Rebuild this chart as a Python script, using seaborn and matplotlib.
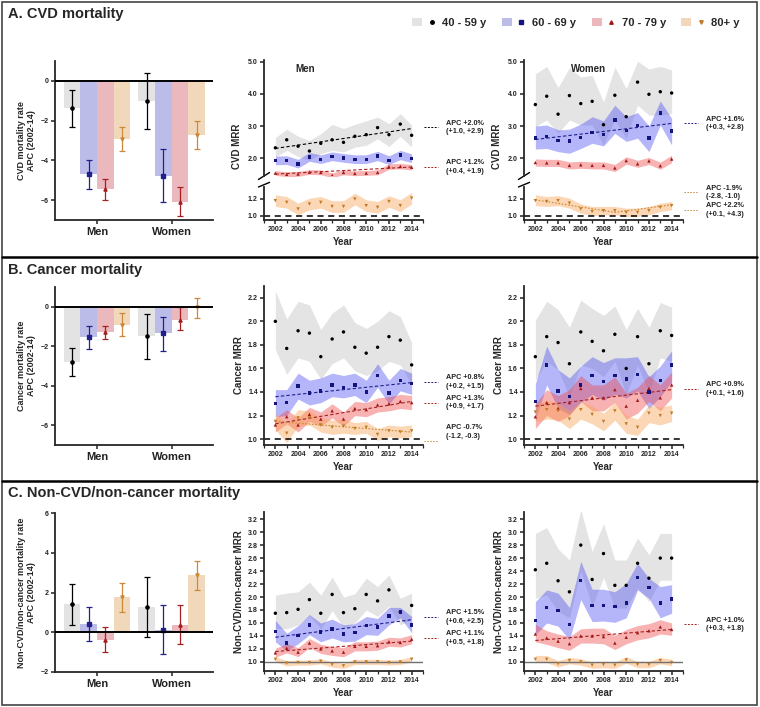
import numpy as np
import pandas as pd
import matplotlib
matplotlib.use('Agg')
import matplotlib.pyplot as plt
import matplotlib.patches as mpatches
import matplotlib.lines as mlines
from matplotlib.legend_handler import HandlerTuple
from matplotlib.ticker import FormatStrFormatter, MultipleLocator
import seaborn as sns

years = list(range(2002, 2015))
ages = ['40 - 59 y', '60 - 69 y', '70 - 79 y', '80+ y']
sexes = ['Men', 'Women']

# ---- bar panels: APC (2002-14), age order, men then women
cvd_apc = [[-1.35, -4.7, -5.45, -2.9], [-1.0, -4.8, -6.1, -2.7]]
cvd_lo = [[-2.3, -5.45, -6.0, -3.55], [-2.4, -6.1, -6.8, -3.45]]
cvd_hi = [[-0.45, -4.0, -4.95, -2.3], [0.4, -3.45, -5.35, -2.0]]

can_apc = [[-2.8, -1.55, -1.3, -0.9], [-1.5, -1.35, -0.65, 0.0]]
can_lo = [[-3.5, -2.15, -1.65, -1.5], [-2.65, -2.25, -1.2, -0.55]]
can_hi = [[-2.1, -0.95, -0.95, -0.3], [-0.35, -0.5, 0.0, 0.45]]

oth_apc = [[1.4, 0.42, -0.4, 1.75], [1.25, 0.11, 0.36, 2.86]]
oth_lo = [[0.37, -0.42, -1.0, 1.03], [-0.24, -1.09, -0.6, 2.12]]
oth_hi = [[2.42, 1.29, 0.25, 2.47], [2.77, 1.36, 1.36, 3.58]]

# ---- MRR panels: one list per age group
cvd_men_mid = [[2.32, 2.57, 2.37, 2.22, 2.46, 2.57, 2.49, 2.68, 2.73, 2.95, 2.73, 3.06, 2.71],
               [1.92, 1.93, 1.82, 2.03, 1.96, 2.05, 2.00, 1.96, 1.96, 2.06, 1.93, 2.09, 1.99],
               [1.53, 1.49, 1.50, 1.56, 1.55, 1.46, 1.55, 1.52, 1.53, 1.55, 1.73, 1.74, 1.71],
               [1.18, 1.16, 1.08, 1.14, 1.16, 1.11, 1.11, 1.20, 1.12, 1.10, 1.17, 1.12, 1.21]]
cvd_men_hi = [[2.64, 2.90, 2.68, 2.55, 2.76, 3.05, 2.92, 3.05, 3.16, 3.28, 3.07, 3.39, 3.02],
              [2.06, 2.07, 1.96, 2.17, 2.10, 2.19, 2.14, 2.10, 2.10, 2.21, 2.07, 2.24, 2.13],
              [1.61, 1.57, 1.58, 1.64, 1.63, 1.54, 1.63, 1.60, 1.61, 1.63, 1.82, 1.83, 1.80],
              [1.25, 1.23, 1.15, 1.21, 1.23, 1.18, 1.18, 1.27, 1.19, 1.17, 1.24, 1.19, 1.28]]
cvd_men_lo = [[2.03, 2.24, 2.05, 1.93, 2.14, 2.24, 2.19, 2.34, 2.40, 2.60, 2.36, 2.68, 2.34],
              [1.79, 1.80, 1.69, 1.90, 1.83, 1.92, 1.87, 1.83, 1.83, 1.92, 1.80, 1.95, 1.86],
              [1.46, 1.42, 1.43, 1.49, 1.48, 1.39, 1.48, 1.45, 1.46, 1.48, 1.65, 1.66, 1.63],
              [1.11, 1.09, 1.01, 1.07, 1.09, 1.04, 1.04, 1.13, 1.05, 1.03, 1.10, 1.05, 1.14]]

cvd_wom_mid = [[3.67, 3.93, 3.37, 3.95, 3.70, 3.77, 3.04, 3.96, 3.29, 4.37, 3.99, 4.07, 4.03],
               [2.62, 2.67, 2.55, 2.53, 2.65, 2.80, 2.73, 3.19, 2.86, 3.02, 2.63, 3.41, 2.85],
               [1.86, 1.85, 1.85, 1.77, 1.79, 1.77, 1.77, 1.69, 1.92, 1.82, 1.91, 1.76, 1.97],
               [1.18, 1.17, 1.18, 1.15, 1.08, 1.05, 1.06, 1.06, 1.04, 1.04, 1.06, 1.10, 1.12]]
cvd_wom_hi = [[4.63, 4.86, 4.20, 4.82, 4.53, 4.58, 3.75, 4.84, 4.17, 5.02, 4.78, 4.86, 4.75],
              [3.00, 3.03, 2.88, 2.90, 3.06, 3.29, 3.16, 3.65, 3.29, 3.42, 3.00, 3.78, 3.24],
              [1.97, 1.96, 1.96, 1.88, 1.90, 1.88, 1.88, 1.80, 2.04, 1.93, 2.02, 1.87, 2.09],
              [1.25, 1.23, 1.24, 1.21, 1.14, 1.11, 1.11, 1.11, 1.09, 1.09, 1.11, 1.15, 1.17]]
cvd_wom_lo = [[2.98, 3.19, 2.77, 3.19, 3.03, 3.03, 2.41, 3.19, 2.62, 3.65, 3.34, 3.34, 3.39],
              [2.28, 2.30, 2.20, 2.15, 2.30, 2.46, 2.38, 2.77, 2.52, 2.62, 2.20, 3.03, 2.41],
              [1.75, 1.74, 1.74, 1.66, 1.68, 1.66, 1.66, 1.58, 1.81, 1.71, 1.80, 1.65, 1.86],
              [1.12, 1.11, 1.12, 1.09, 1.03, 1.00, 1.01, 1.01, 0.99, 0.99, 1.01, 1.05, 1.07]]

can_men_mid = [[2.00, 1.77, 1.92, 1.90, 1.70, 1.85, 1.91, 1.78, 1.73, 1.78, 1.87, 1.84, 1.63],
               [1.30, 1.31, 1.45, 1.39, 1.41, 1.46, 1.44, 1.46, 1.40, 1.54, 1.39, 1.50, 1.47],
               [1.12, 1.19, 1.12, 1.21, 1.17, 1.24, 1.17, 1.26, 1.25, 1.29, 1.30, 1.32, 1.31],
               [1.15, 1.05, 1.18, 1.18, 1.12, 1.10, 1.11, 1.09, 1.10, 1.04, 1.07, 1.06, 1.07]]
can_men_hi = [[2.26, 2.02, 2.17, 2.14, 1.93, 2.07, 2.14, 1.99, 1.94, 2.00, 2.09, 2.04, 1.82],
              [1.42, 1.42, 1.56, 1.50, 1.52, 1.56, 1.54, 1.56, 1.50, 1.64, 1.50, 1.60, 1.56],
              [1.18, 1.25, 1.18, 1.27, 1.23, 1.30, 1.23, 1.32, 1.31, 1.35, 1.36, 1.38, 1.37],
              [1.22, 1.13, 1.25, 1.24, 1.18, 1.16, 1.17, 1.14, 1.15, 1.09, 1.12, 1.11, 1.12]]
can_men_lo = [[1.76, 1.55, 1.69, 1.66, 1.51, 1.64, 1.69, 1.58, 1.54, 1.58, 1.66, 1.63, 1.46],
              [1.19, 1.20, 1.34, 1.29, 1.31, 1.36, 1.35, 1.37, 1.31, 1.44, 1.30, 1.41, 1.38],
              [1.06, 1.13, 1.06, 1.15, 1.11, 1.18, 1.11, 1.20, 1.19, 1.23, 1.24, 1.26, 1.25],
              [1.08, 0.97, 1.11, 1.12, 1.06, 1.04, 1.05, 1.04, 1.05, 0.99, 1.02, 1.01, 1.02]]

can_wom_mid = [[1.70, 1.87, 1.82, 1.64, 1.91, 1.83, 1.75, 1.89, 1.60, 1.87, 1.64, 1.92, 1.88],
               [1.32, 1.63, 1.41, 1.36, 1.46, 1.54, 1.49, 1.54, 1.51, 1.55, 1.40, 1.50, 1.63],
               [1.19, 1.31, 1.26, 1.31, 1.43, 1.35, 1.35, 1.42, 1.28, 1.33, 1.43, 1.35, 1.46],
               [1.23, 1.25, 1.24, 1.17, 1.25, 1.21, 1.15, 1.24, 1.13, 1.10, 1.22, 1.20, 1.22]]
can_wom_hi = [[2.01, 2.17, 2.10, 1.95, 2.18, 2.11, 2.05, 2.13, 1.93, 2.11, 1.95, 2.16, 2.12],
              [1.47, 1.79, 1.59, 1.52, 1.62, 1.70, 1.65, 1.69, 1.69, 1.70, 1.53, 1.62, 1.75],
              [1.30, 1.42, 1.37, 1.42, 1.54, 1.46, 1.46, 1.53, 1.39, 1.44, 1.54, 1.46, 1.57],
              [1.30, 1.33, 1.31, 1.24, 1.32, 1.28, 1.22, 1.31, 1.20, 1.17, 1.29, 1.27, 1.29]]
can_wom_lo = [[1.50, 1.66, 1.59, 1.36, 1.63, 1.60, 1.53, 1.66, 1.38, 1.63, 1.39, 1.69, 1.66],
              [1.16, 1.46, 1.26, 1.21, 1.31, 1.38, 1.33, 1.38, 1.35, 1.41, 1.26, 1.36, 1.49],
              [1.09, 1.20, 1.15, 1.20, 1.32, 1.24, 1.24, 1.31, 1.17, 1.22, 1.32, 1.24, 1.35],
              [1.15, 1.17, 1.16, 1.09, 1.17, 1.13, 1.07, 1.16, 1.05, 1.03, 1.14, 1.12, 1.15]]

oth_men_mid = [[1.75, 1.76, 1.81, 1.96, 1.75, 2.04, 1.76, 1.82, 2.04, 1.94, 2.11, 1.77, 1.87],
               [1.47, 1.29, 1.41, 1.57, 1.46, 1.51, 1.43, 1.45, 1.56, 1.54, 1.71, 1.77, 1.57],
               [1.14, 1.21, 1.15, 1.29, 1.20, 1.17, 1.15, 1.24, 1.24, 1.25, 1.31, 1.30, 1.35],
               [1.04, 0.98, 0.99, 0.99, 1.01, 0.96, 0.94, 1.00, 1.00, 1.00, 0.99, 1.00, 1.04]]
oth_men_hi = [[2.03, 2.06, 2.08, 2.23, 2.03, 2.31, 2.00, 2.05, 2.29, 2.16, 2.34, 1.98, 2.06],
              [1.64, 1.44, 1.56, 1.73, 1.60, 1.66, 1.57, 1.59, 1.70, 1.67, 1.84, 1.84, 1.70],
              [1.21, 1.28, 1.22, 1.36, 1.27, 1.24, 1.22, 1.31, 1.31, 1.32, 1.38, 1.37, 1.42],
              [1.08, 1.02, 1.03, 1.03, 1.05, 1.00, 0.98, 1.04, 1.04, 1.04, 1.03, 1.04, 1.08]]
oth_men_lo = [[1.52, 1.51, 1.57, 1.71, 1.51, 1.79, 1.53, 1.60, 1.80, 1.70, 1.86, 1.57, 1.66],
              [1.31, 1.17, 1.28, 1.42, 1.31, 1.37, 1.31, 1.32, 1.42, 1.41, 1.57, 1.68, 1.45],
              [1.07, 1.14, 1.08, 1.22, 1.13, 1.10, 1.08, 1.17, 1.17, 1.18, 1.24, 1.23, 1.28],
              [1.00, 0.94, 0.95, 0.95, 0.97, 0.92, 0.90, 0.96, 0.96, 0.96, 0.95, 0.96, 1.00]]

oth_wom_mid = [[2.42, 2.52, 2.25, 2.08, 2.80, 2.27, 2.67, 2.18, 2.18, 2.52, 2.29, 2.60, 2.60],
               [1.64, 1.84, 1.79, 1.58, 2.25, 1.87, 1.87, 1.85, 1.91, 2.30, 2.15, 1.91, 1.97],
               [1.43, 1.37, 1.32, 1.28, 1.40, 1.40, 1.39, 1.29, 1.38, 1.45, 1.48, 1.54, 1.50],
               [1.04, 1.04, 0.97, 1.02, 1.00, 0.95, 0.96, 0.95, 1.03, 0.96, 0.96, 1.02, 0.99]]
oth_wom_hi = [[2.98, 3.07, 2.74, 2.57, 3.35, 2.70, 3.13, 2.57, 2.57, 2.91, 2.65, 2.98, 2.98],
              [1.93, 2.11, 2.06, 1.84, 2.55, 2.12, 2.12, 2.08, 2.21, 2.52, 2.29, 2.16, 2.19],
              [1.58, 1.48, 1.43, 1.39, 1.51, 1.52, 1.52, 1.41, 1.50, 1.56, 1.59, 1.65, 1.60],
              [1.10, 1.10, 1.02, 1.07, 1.05, 1.00, 1.01, 1.00, 1.08, 1.01, 1.01, 1.07, 1.04]]
oth_wom_lo = [[1.98, 2.03, 1.78, 1.68, 2.40, 1.86, 2.30, 1.83, 1.83, 2.14, 1.93, 2.26, 2.26],
              [1.42, 1.60, 1.55, 1.34, 1.96, 1.62, 1.63, 1.61, 1.68, 2.11, 1.98, 1.68, 1.75],
              [1.31, 1.27, 1.22, 1.18, 1.29, 1.29, 1.28, 1.19, 1.28, 1.34, 1.37, 1.43, 1.41],
              [0.99, 0.99, 0.92, 0.97, 0.95, 0.90, 0.91, 0.90, 0.98, 0.91, 0.91, 0.97, 0.94]]

# joinpoint trend lines: (age index, years, values)
cvd_men_trend = [(0, [2002, 2014], [2.30, 2.92]), (2, [2002, 2014], [1.50, 1.72])]
cvd_wom_trend = [(1, [2002, 2014], [2.58, 3.08]), (3, [2002, 2009, 2014], [1.19, 1.04, 1.13])]
can_men_trend = [(1, [2002, 2014], [1.36, 1.48]), (2, [2002, 2014], [1.13, 1.32]),
                 (3, [2002, 2014], [1.15, 1.06])]
can_wom_trend = [(2, [2002, 2014], [1.28, 1.42])]
oth_men_trend = [(1, [2002, 2014], [1.38, 1.65]), (2, [2002, 2014], [1.16, 1.32])]
oth_wom_trend = [(2, [2002, 2014], [1.33, 1.50])]

# APC labels: (age index, text)
cvd_men_apc = [(0, 'APC +2.0%\n(+1.0, +2.9)'), (2, 'APC +1.2%\n(+0.4, +1.9)')]
cvd_wom_apc = [(1, 'APC +1.6%\n(+0.3, +2.8)'), (3, 'APC -1.9%\n(-2.8, -1.0)'), (3, 'APC +2.2%\n(+0.1, +4.3)')]
can_men_apc = [(1, 'APC +0.8%\n(+0.2, +1.5)'), (2, 'APC +1.3%\n(+0.9, +1.7)'), (3, 'APC -0.7%\n(-1.2, -0.3)')]
can_wom_apc = [(2, 'APC +0.9%\n(+0.1, +1.6)')]
oth_men_apc = [(1, 'APC +1.5%\n(+0.6, +2.5)'), (2, 'APC +1.1%\n(+0.5, +1.8)')]
oth_wom_apc = [(2, 'APC +1.0%\n(+0.3, +1.8)')]

# ---- style
sns.set_style('ticks')
plt.rcParams['font.family'] = ['Liberation Sans', 'DejaVu Sans']
plt.rcParams['font.weight'] = 'bold'
plt.rcParams['axes.labelweight'] = 'bold'

bar_colors = ['#e3e3e3', '#bcbce8', '#ebb8bd', '#f1d8bb']
band_colors = ['#b8b8b8', '#5050f2', '#f04848', '#f8a050']
band_alpha = [0.38, 0.42, 0.42, 0.42]
dot_colors = ['#000000', '#14147e', '#a01818', '#c07a28']
err_colors = ['#000000', '#20208f', '#a52020', '#cc8a38']
markers = ['o', 's', '^', 'v']

W, H = 760, 707
fig = plt.figure(figsize=(7.6, 7.07), dpi=100)


def px_box(x0, y0, x1, y1):
    return [x0 / W, 1 - y1 / H, (x1 - x0) / W, (y1 - y0) / H]


def basic_spines(ax, bottom=True):
    sns.despine(ax=ax)
    ax.spines['left'].set_linewidth(1.3)
    ax.spines['bottom'].set_linewidth(1.3)
    if not bottom:
        ax.spines['bottom'].set_visible(False)
    ax.tick_params(width=1.1, length=3, labelsize=5, pad=1.5, colors='#222222')
    ax.tick_params(which='minor', width=0.9, length=2)


def draw_bars(ax, apc, lo, hi, ylabel, ylim, yticks):
    df = pd.DataFrame({'sex': np.repeat(sexes, 4), 'age': ages * 2,
                       'apc': apc[0] + apc[1]})
    sns.barplot(data=df, x='sex', y='apc', hue='age', hue_order=ages, palette=bar_colors,
                width=0.89, errorbar=None, saturation=1, legend=False, ax=ax)
    for i, cont in enumerate(list(ax.containers)):
        for j, p in enumerate(cont.patches):
            p.set_edgecolor('none')
            xc = p.get_x() + p.get_width() / 2
            v = apc[j][i]
            ax.errorbar([xc], [v], yerr=[[v - lo[j][i]], [hi[j][i] - v]], fmt=markers[i],
                        color=err_colors[i], ms=2.3, elinewidth=0.9, capsize=2, capthick=0.9)
    ax.axhline(0, color='black', lw=1.4, zorder=5)
    basic_spines(ax)
    ax.set_xlim(-0.56, 1.55)
    ax.set_ylim(*ylim)
    ax.set_yticks(yticks)
    ax.set_xlabel('')
    ax.set_ylabel(ylabel, fontsize=6.5, linespacing=1.2, labelpad=3)
    ax.tick_params(axis='x', labelsize=8, length=3, pad=2)
    ax.tick_params(axis='y', labelsize=5)


def draw_mrr(ax, mid, lo, hi, idx):
    for i in idx:
        ax.fill_between(years, lo[i], hi[i], color=band_colors[i], alpha=band_alpha[i], lw=0)
    df = pd.DataFrame({'year': np.tile(years, len(idx)),
                       'mrr': np.concatenate([mid[i] for i in idx]),
                       'age': np.repeat([ages[i] for i in idx], len(years))})
    sns.scatterplot(data=df, x='year', y='mrr', hue='age', style='age',
                    palette={ages[i]: dot_colors[i] for i in idx},
                    markers={ages[i]: markers[i] for i in idx},
                    s=6, linewidth=0, legend=False, ax=ax, zorder=4)
    ax.set_xlabel('')
    ax.set_ylabel('')


def draw_trend(ax, trend, idx):
    for i, yrs, vals in trend:
        if i in idx:
            ls = (0, (1.5, 1.5)) if i == 3 else (0, (3, 2))
            ax.plot(yrs, vals, ls=ls, lw=0.8, color=err_colors[i], zorder=3)


def apc_label(ax, ym, text, i, yt=None):
    ls = (0, (1.5, 1.5)) if i == 3 else (0, (2, 1.5))
    ax.plot([2015.1, 2016.3], [ym, ym], ls=ls, lw=0.7, color=err_colors[i], clip_on=False)
    ax.text(2017.0, ym if yt is None else yt, text, fontsize=5.2, va='center', ha='left',
            linespacing=1.3, color='#222222')


def year_axis(ax, show_label=True):
    ax.set_xlim(2001, 2015)
    ax.set_xticks(range(2002, 2015, 2))
    ax.xaxis.set_minor_locator(MultipleLocator(1))
    if show_label:
        ax.set_xlabel('Year', fontsize=7, labelpad=3)


# ---- panel A: CVD
ax = fig.add_axes(px_box(55, 61, 213, 220))
draw_bars(ax, cvd_apc, cvd_lo, cvd_hi, 'CVD mortality rate\nAPC (2002-14)', (-7, 1), [0, -2, -4, -6])

for k, (x0, mid, lo, hi, trend, labels) in enumerate([
        (264, cvd_men_mid, cvd_men_lo, cvd_men_hi, cvd_men_trend, cvd_men_apc),
        (524, cvd_wom_mid, cvd_wom_lo, cvd_wom_hi, cvd_wom_trend, cvd_wom_apc)]):
    up = fig.add_axes(px_box(x0, 60, x0 + 159, 176))
    low = fig.add_axes(px_box(x0, 187, x0 + 159, 220))
    draw_mrr(up, mid, lo, hi, [0, 1, 2])
    draw_mrr(low, mid, lo, hi, [3])
    draw_trend(up, trend, [0, 1, 2])
    draw_trend(low, trend, [3])
    up.set_ylim(1.44, 5.06)
    up.set_yticks([2.0, 3.0, 4.0, 5.0])
    low.set_ylim(0.948, 1.344)
    low.set_yticks([1.0, 1.2])
    for a in (up, low):
        a.yaxis.set_major_formatter(FormatStrFormatter('%.1f'))
        year_axis(a, show_label=(a is low))
    basic_spines(up, bottom=False)
    basic_spines(low)
    up.tick_params(axis='x', which='both', bottom=False, labelbottom=False)
    low.axhline(1.0, color='black', ls=(0, (4, 3)), lw=1.1, zorder=2)
    # axis break marks
    up.plot([-0.035, 0.035], [-0.03, 0.03], transform=up.transAxes, color='k', lw=1.0, clip_on=False)
    low.plot([-0.035, 0.035], [1.0, 1.14], transform=low.transAxes, color='k', lw=1.0, clip_on=False)
    up.set_ylabel('CVD MRR', fontsize=7, labelpad=3)
    up.yaxis.set_label_coords(-0.14, 0.26)
    label_pos = [(up, 2.96), (up, 1.72)] if k == 0 else [(up, 3.08), (low, 1.28), (low, 1.07)]
    for (a, y), (i, txt) in zip(label_pos, labels):
        apc_label(a, y, txt, i)

fig.text(305 / W, 1 - 69 / H, 'Men', fontsize=7, ha='center', va='center')
fig.text(589 / W, 1 - 69 / H, 'Women', fontsize=7, ha='center', va='center')

# ---- panel B: cancer
ax = fig.add_axes(px_box(55, 287, 213, 445))
draw_bars(ax, can_apc, can_lo, can_hi, 'Cancer mortality rate\nAPC (2002-14)', (-7, 1), [0, -2, -4, -6])

for k, (x0, mid, lo, hi, trend, labels) in enumerate([
        (264, can_men_mid, can_men_lo, can_men_hi, can_men_trend, can_men_apc),
        (524, can_wom_mid, can_wom_lo, can_wom_hi, can_wom_trend, can_wom_apc)]):
    a = fig.add_axes(px_box(x0, 286, x0 + 159, 445))
    draw_mrr(a, mid, lo, hi, [0, 1, 2, 3])
    draw_trend(a, trend, [0, 1, 2, 3])
    a.axhline(1.0, color='black', ls=(0, (4, 3)), lw=1.1, zorder=2)
    a.set_ylim(0.95, 2.3)
    a.set_yticks(np.arange(1.0, 2.21, 0.2))
    a.yaxis.set_major_formatter(FormatStrFormatter('%.1f'))
    year_axis(a)
    basic_spines(a)
    a.set_ylabel('Cancer MRR', fontsize=7, labelpad=3)
    label_pos = [(1.485, 1.485), (1.31, 1.31), (0.985, 1.06)] if k == 0 else [(1.425, 1.425)]
    for (ym, yt), (i, txt) in zip(label_pos, labels):
        apc_label(a, ym, txt, i, yt)

# ---- panel C: non-CVD/non-cancer
ax = fig.add_axes(px_box(55, 513, 213, 672))
draw_bars(ax, oth_apc, oth_lo, oth_hi, 'Non-CVD/non-cancer mortality rate\nAPC (2002-14)',
          (-2, 6), [-2, 0, 2, 4, 6])

for k, (x0, mid, lo, hi, trend, labels) in enumerate([
        (264, oth_men_mid, oth_men_lo, oth_men_hi, oth_men_trend, oth_men_apc),
        (524, oth_wom_mid, oth_wom_lo, oth_wom_hi, oth_wom_trend, oth_wom_apc)]):
    a = fig.add_axes(px_box(x0, 512, x0 + 159, 671))
    draw_mrr(a, mid, lo, hi, [0, 1, 2, 3])
    draw_trend(a, trend, [0, 1, 2, 3])
    a.axhline(1.0, color='#707070', lw=1.0, zorder=2)
    a.set_ylim(0.86, 3.31)
    a.set_yticks(np.arange(1.0, 3.21, 0.2))
    a.yaxis.set_major_formatter(FormatStrFormatter('%.1f'))
    year_axis(a)
    basic_spines(a)
    a.set_ylabel('Non-CVD/non-cancer MRR', fontsize=7, labelpad=3)
    label_pos = [1.69, 1.37] if k == 0 else [1.58]
    for y, (i, txt) in zip(label_pos, labels):
        apc_label(a, y, txt, i)

# ---- titles, legend, frame
fig.text(8 / W, 1 - 14 / H, 'A. CVD mortality', fontsize=10.5, va='center')
fig.text(8 / W, 1 - 270 / H, 'B. Cancer mortality', fontsize=10.5, va='center')
fig.text(8 / W, 1 - 493 / H, 'C. Non-CVD/non-cancer mortality', fontsize=10.5, va='center')

handles = [(mpatches.Patch(facecolor=bar_colors[i], edgecolor='none'),
            mlines.Line2D([], [], ls='', marker=markers[i], color=dot_colors[i], ms=2.5))
           for i in range(4)]
fig.legend(handles, ages, handler_map={tuple: HandlerTuple(ndivide=None)}, ncol=4,
           loc='center', bbox_to_anchor=(576 / W, 1 - 23 / H), frameon=False, fontsize=8,
           handlelength=2.2, handleheight=0.8, handletextpad=0.5, columnspacing=1.4)

fig.add_artist(mpatches.Rectangle((2 / W, 2 / H), 755 / W, 703 / H, transform=fig.transFigure,
                                  fill=False, lw=1.2, ec='#444444'))
for ysep in (257, 481):
    fig.add_artist(mlines.Line2D([2 / W, 757 / W], [1 - ysep / H, 1 - ysep / H],
                                 transform=fig.transFigure, color='black', lw=1.8))

fig.savefig('out.png', dpi=100)
